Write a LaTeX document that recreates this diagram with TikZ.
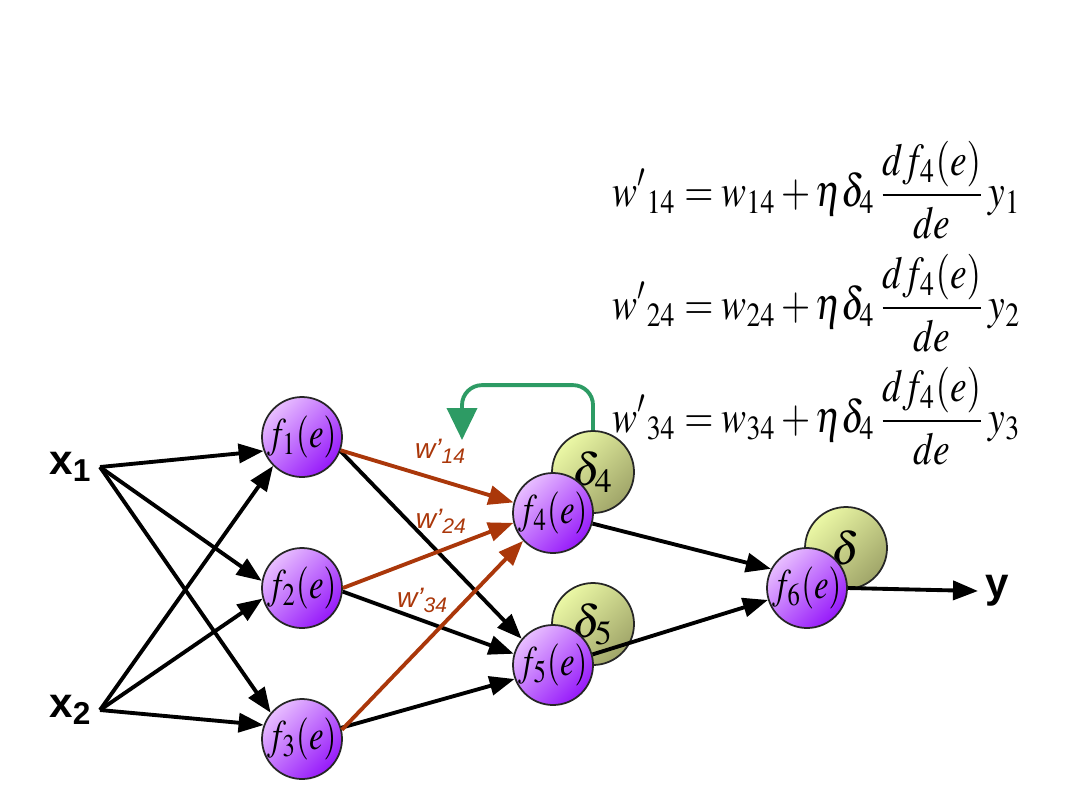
\documentclass[tikz,border=0pt]{standalone}
\usepackage{mathptmx}
\usepackage[no-math]{fontspec}
\setmainfont{Liberation Serif}
\setsansfont{Liberation Sans}
\usepackage{graphicx}
\usepackage{tikz}
\usetikzlibrary{arrows.meta,positioning}
\definecolor{neuronlight}{RGB}{232,190,255}
\definecolor{neurondark}{RGB}{150,25,250}
\definecolor{deltalight}{RGB}{235,248,165}
\definecolor{deltadark}{RGB}{160,165,105}
\definecolor{wbrown}{RGB}{170,55,10}
\definecolor{backgreen}{RGB}{45,155,100}
\newcommand{\fe}[1]{\scalebox{0.78}[1]{$f_{#1}(e)$}}
\newcommand{\weq}[2]{\scalebox{0.82}[1]{$\displaystyle {w'}_{#1} = w_{#1}
  + \eta\delta_4\,\frac{df_4(e)}{de}\,y_{#2}$}}

\begin{document}
\begin{tikzpicture}[>={Triangle[length=0.25cm,width=0.19cm]},
  neuron/.style={circle, draw=black!85, line width=0.5pt, minimum size=0.8cm,
                 inner sep=-3pt, top color=neuronlight, bottom color=neurondark,
                 shading angle=45, font=\fontsize{12}{14}\selectfont},
  errnode/.style={circle, draw=black!85, line width=0.5pt, minimum size=0.82cm,
                 inner sep=-3pt, top color=deltalight, bottom color=deltadark,
                 shading angle=45, font=\fontsize{13}{15}\selectfont},
  link/.style={->, line width=1.1pt},
  upd/.style={link, draw=wbrown},
  wlab/.style={font=\sffamily\itshape\footnotesize, text=wbrown},
  inlab/.style={font=\sffamily\bfseries\large, inner sep=2pt},
  eqn/.style={anchor=west, inner sep=0pt, font=\fontsize{13}{15}\selectfont}]
  \useasboundingbox (0,0) rectangle (10.8,8.1);

  \node[errnode] (d4) at (5.93,3.38) {$\delta_4$};
  \node[errnode] (d5) at (5.93,1.86) {$\delta_5$};
  \node[errnode] (d6) at (8.46,2.62) {$\delta$};

  \node[neuron] (f1) at (3.02,3.73) {\fe{1}};
  \node[neuron] (f2) at (3.02,2.22) {\fe{2}};
  \node[neuron] (f3) at (3.02,0.71) {\fe{3}};
  \node[neuron] (f4) at (5.53,2.97) {\fe{4}};
  \node[neuron] (f5) at (5.53,1.45) {\fe{5}};
  \node[neuron] (f6) at (8.07,2.22) {\fe{6}};

  \node[inlab, anchor=east] (x1) at (1.0,3.43) {x\textsubscript{1}};
  \node[inlab, anchor=east] (x2) at (1.0,1.0) {x\textsubscript{2}};
  \node[inlab, anchor=west] (yout) at (9.78,2.19) {y};

  \draw[link] (x1.east) -- (f1.200);
  \draw[link] (x1.east) -- (f2.170);
  \draw[link] (x1.east) -- (f3.140);
  \draw[link] (x2.east) -- (f1.225);
  \draw[link] (x2.east) -- (f2.195);
  \draw[link] (x2.east) -- (f3.160);

  \draw[link] (f1.340) -- (f5.140);
  \draw[link] (f2.355) -- (f5.164);
  \draw[link] (f3.16) -- (f5.200);
  \draw[upd] (f1.341) -- (f4.165)
    node[wlab, pos=0.58, above=1pt] {w'\textsubscript{14}};
  \draw[upd] (f2.0) -- (f4.194)
    node[wlab, pos=0.58, above=1pt] {w'\textsubscript{24}};
  \draw[upd] (f3.13) -- (f4.223);
  \node[wlab] (w34) at (4.23,2.10) {w'\textsubscript{34}};

  \draw[link] (f4.345) -- (f6.152);
  \draw[link] (f5.15) -- (f6.197);
  \draw[link] (f6.east) -- (yout.west);

  \coordinate (back) at (4.62,3.70);
  \draw[line width=1.1pt, draw=backgreen, rounded corners=0.2cm,
        -{Triangle[length=0.32cm,width=0.3cm]}]
    (d4.north) -- ++(0,0.45) -| (back);

  \node[eqn] (eq1) at (6.12,6.20) {\weq{14}{1}};
  \node[eqn] (eq2) at (6.12,5.07) {\weq{24}{2}};
  \node[eqn] (eq3) at (6.12,3.94) {\weq{34}{3}};
\end{tikzpicture}
\end{document}
